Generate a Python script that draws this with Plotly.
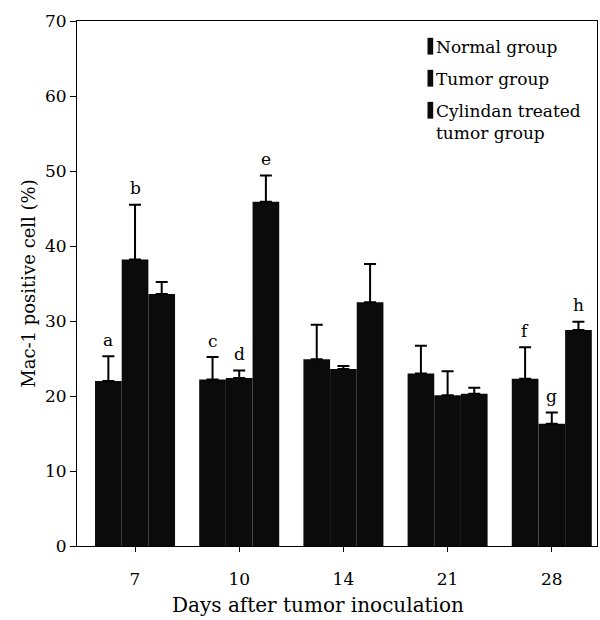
import plotly.graph_objects as go

# Days after tumor inoculation
days = ["7", "10", "14", "21", "28"]

# Mean Mac-1 positive cells (%) and top of the SD bar for each group
normal_mean = [22.0, 22.2, 24.9, 23.0, 22.3]
normal_top = [25.3, 25.2, 29.5, 26.7, 26.5]
tumor_mean = [38.2, 22.4, 23.6, 20.1, 16.3]
tumor_top = [45.5, 23.4, 24.0, 23.3, 17.8]
cyl_mean = [33.6, 45.9, 32.5, 20.3, 28.8]
cyl_top = [35.2, 49.4, 37.6, 21.1, 29.9]

# Significance letters: (series index, day index, letter)
letters = [
    (0, 0, "a"), (1, 0, "b"),
    (0, 1, "c"), (1, 1, "d"), (2, 1, "e"),
    (0, 4, "f"), (1, 4, "g"), (2, 4, "h"),
]

series_names = ["Normal group", "Tumor group", "Cylindan treated<br>tumor group"]
means = [normal_mean, tumor_mean, cyl_mean]
tops = [normal_top, tumor_top, cyl_top]

FONT = "DejaVu Serif"
BAR_COLOR = "#0b0b0b"
xpos = list(range(len(days)))
bar_w = 0.256
offsets = [-bar_w, 0.0, bar_w]

fig = go.Figure()
for name, m, t, off in zip(series_names, means, tops, offsets):
    fig.add_trace(go.Bar(
        x=[p + off for p in xpos],
        y=m,
        width=bar_w,
        name=name,
        marker=dict(color=BAR_COLOR, line=dict(width=0)),
        error_y=dict(
            type="data", symmetric=False,
            array=[tt - mm for tt, mm in zip(t, m)],
            arrayminus=[0] * len(m),
            color="black", thickness=2, width=6,
        ),
        showlegend=False,
    ))

annotations = []
for s, d, ch in letters:
    annotations.append(dict(
        x=d + offsets[s], y=tops[s][d] + 0.6, xref="x", yref="y",
        text=ch, showarrow=False, yanchor="bottom",
        font=dict(family=FONT, size=17, color="black"),
    ))

# Legend drawn as swatches + labels inside the plot area
legend_rows = [(0.952, "Normal group"), (0.891, "Tumor group"),
               (0.830, "Cylindan treated<br>tumor group")]
shapes = []
for yy, label in legend_rows:
    shapes.append(dict(
        type="rect", xref="paper", yref="paper",
        x0=0.674, x1=0.685, y0=yy - 0.016, y1=yy + 0.016,
        fillcolor=BAR_COLOR, line=dict(width=0),
    ))
    annotations.append(dict(
        x=0.686, y=yy + 0.021, xref="paper", yref="paper",
        text=label, showarrow=False, xanchor="left", yanchor="top",
        align="left",
        font=dict(family=FONT, size=17, color="black"),
    ))

# x-axis title placed as a paper-anchored label below the tick labels
annotations.append(dict(
    x=0.463, y=-0.112, xref="paper", yref="paper",
    text="Days after tumor inoculation", showarrow=False,
    xanchor="center", yanchor="middle",
    font=dict(family=FONT, size=20, color="black"),
))

fig.update_layout(
    width=600, height=620,
    margin=dict(l=77, r=3, t=21, b=74),
    paper_bgcolor="white", plot_bgcolor="white",
    barmode="overlay",
    font=dict(family=FONT, size=16, color="black"),
    shapes=shapes,
    annotations=annotations,
    xaxis=dict(
        range=[-0.557, 4.434],
        tickmode="array", tickvals=xpos, ticktext=days,
        showline=True, linecolor="black", linewidth=1, mirror=True,
        ticks="outside", ticklen=5, tickcolor="black",
        ticklabelstandoff=13,
        showgrid=False, zeroline=False,
        tickfont=dict(family=FONT, size=17),
    ),
    yaxis=dict(
        range=[0, 70], dtick=10,
        showline=True, linecolor="black", linewidth=1, mirror=True,
        ticks="outside", ticklen=6, tickcolor="black",
        showgrid=False, zeroline=False,
        tickfont=dict(family=FONT, size=17),
        title=dict(text="Mac-1 positive cell (%)",
                   font=dict(family=FONT, size=18), standoff=4),
    ),
)

fig.write_html("out.html")
